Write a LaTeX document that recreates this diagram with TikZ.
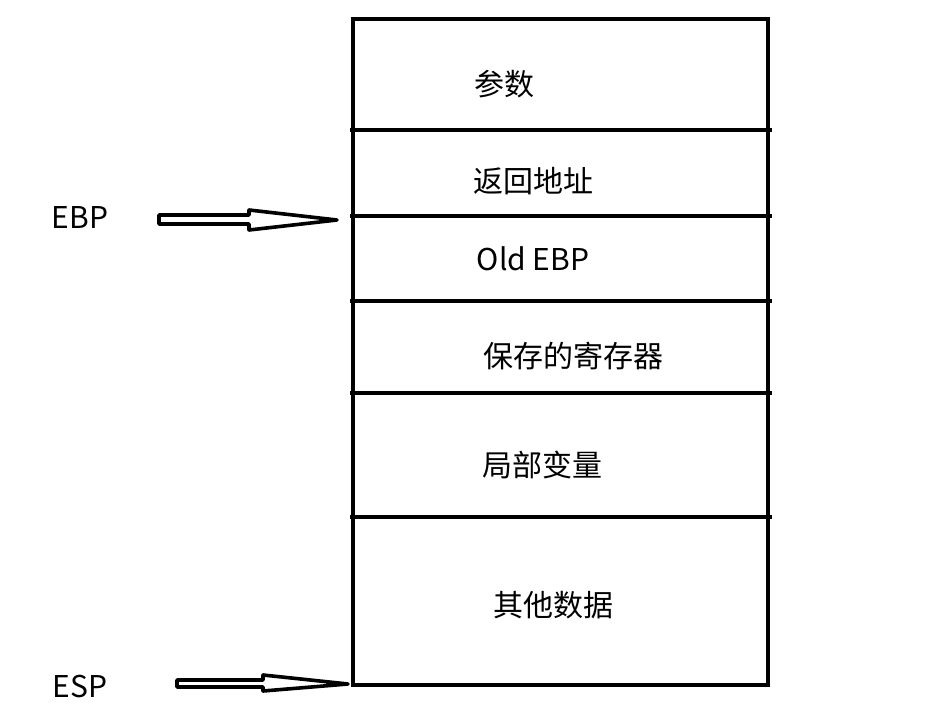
\documentclass[tikz,border=0pt]{standalone}
\usepackage{fontspec}
\setmainfont{Noto Sans CJK SC}
\begin{document}
\begin{tikzpicture}[x=1pt,y=-1pt,
  frame/.style={line width=4pt},
  sep/.style={line width=4pt},
  lbl/.style={inner sep=0pt,font=\fontsize{30}{35}\selectfont,anchor=center},
  hollowarrow/.style={line width=3.6pt,fill=white,line join=round}]
\useasboundingbox (0,0) rectangle (936,727);
% stack frame
\draw[frame] (353,19) rectangle (768,685);
\foreach \yy in {130,216,301,393,517}{
  \draw[sep] (350,\yy) -- (772,\yy);
}
% labels
\node[lbl] (params) at (504,84) {参数};
\node[lbl] (ret) at (533,181) {返回地址};
\node[lbl] (oldebp) at (533,259) {Old EBP};
\node[lbl] (saved) at (573,356) {保存的寄存器};
\node[lbl] (locals) at (542,465) {局部变量};
\node[lbl] (other) at (553,605) {其他数据};
\node[lbl] (ebp) at (80,218) {EBP};
\node[lbl] (esp) at (80,686) {ESP};
% pointer arrows
\coordinate (ebptip) at (337,220);
\coordinate (esptip) at (348,684);
\draw[hollowarrow] (159,215) -- (249,215) -- (249,210) -- (ebptip) -- (249,230) -- (249,224) -- (159,224) -- cycle;
\draw[hollowarrow] (177,680) -- (263,680) -- (263,675) -- (esptip) -- (263,691) -- (263,687) -- (177,687) -- cycle;
\end{tikzpicture}
\end{document}
